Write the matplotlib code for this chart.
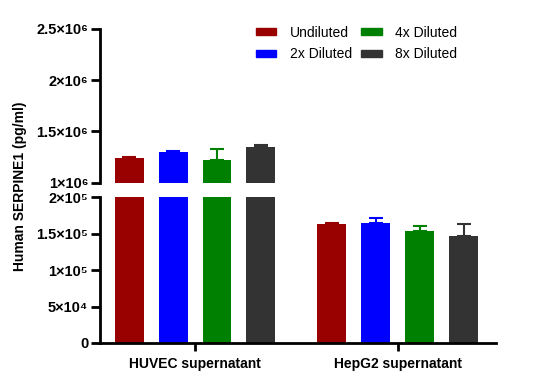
import numpy as np
import matplotlib
matplotlib.use("Agg")
import matplotlib.pyplot as plt
from matplotlib.patches import Patch

plt.rcParams['font.family'] = ['Liberation Sans', 'DejaVu Sans']

# data
groups = ['HUVEC supernatant', 'HepG2 supernatant']
series = ['Undiluted', '2x Diluted', '4x Diluted', '8x Diluted']
colors = ['#990000', '#0000ff', '#008000', '#333333']
undiluted = [1.238e6, 163e3]
diluted_2x = [1.297e6, 165e3]
diluted_4x = [1.224e6, 154e3]
diluted_8x = [1.348e6, 147e3]
err_undiluted = [16e3, 1.5e3]
err_2x = [12e3, 6e3]
err_4x = [105e3, 6e3]
err_8x = [22e3, 17e3]

upper_ticks = [1e6, 1.5e6, 2e6, 2.5e6]
upper_labels = ['1×10⁶', '1.5×10⁶', '2×10⁶', '2.5×10⁶']
lower_ticks = [0, 5e4, 1e5, 1.5e5, 2e5]
lower_labels = ['0', '5×10⁴', '1×10⁵', '1.5×10⁵', '2×10⁵']

means = [undiluted, diluted_2x, diluted_4x, diluted_8x]
errs = [err_undiluted, err_2x, err_4x, err_8x]

fig = plt.figure(figsize=(5.4, 3.89), dpi=100)
L, R = 100 / 540, 496 / 540
ax_top = fig.add_axes([L, 1 - 182.7 / 389, R - L, (182.7 - 29) / 389])
ax_bot = fig.add_axes([L, 1 - 343 / 389, R - L, (343 - 197.3) / 389])

x = np.arange(len(groups))
step = 0.217
width = 0.143
for ax in (ax_top, ax_bot):
    for i in range(4):
        pos = x + (i - 1.5) * step
        ax.bar(pos, means[i], width, color=colors[i], zorder=2)
        ax.errorbar(pos, means[i], yerr=[np.zeros(2), errs[i]], fmt='none',
                    ecolor=colors[i], elinewidth=1.5, capsize=5, capthick=1.5, zorder=1)
    ax.set_xlim(-0.4687, 1.485)
    for s in ('top', 'right'):
        ax.spines[s].set_visible(False)
    ax.spines['left'].set_linewidth(2)
    ax.spines['bottom'].set_linewidth(2)
    ax.tick_params(axis='y', width=2, length=6.5, labelsize=10.5, pad=2)
    ax.tick_params(axis='x', width=2, length=6, labelsize=10, pad=4)

ax_top.set_ylim(1e6, 2.5e6)
ax_top.set_yticks(upper_ticks)
ax_top.set_yticklabels(upper_labels, fontweight='bold')
ax_top.spines['bottom'].set_visible(False)
ax_top.set_xticks([])

ax_bot.set_ylim(0, 2e5)
ax_bot.set_yticks(lower_ticks)
ax_bot.set_yticklabels(lower_labels, fontweight='bold')
ax_bot.set_xticks(x)
ax_bot.set_xticklabels(groups, fontweight='bold')

fig.text(20 / 540, 1 - 186 / 389, 'Human SERPINE1 (pg/ml)', rotation=90,
         ha='center', va='center', fontsize=10, fontweight='bold')

handles = [Patch(color=c, label=s) for c, s in zip(colors, series)]
ax_top.legend(handles=handles, ncol=2, frameon=False, fontsize=10,
              handlelength=1.5, handleheight=0.45, handletextpad=1.0,
              columnspacing=0.6, labelspacing=0.55,
              loc='upper left', bbox_to_anchor=(250 / 540, 1 - 20 / 389),
              bbox_transform=fig.transFigure, borderaxespad=0)

fig.savefig('out.png', dpi=100)
